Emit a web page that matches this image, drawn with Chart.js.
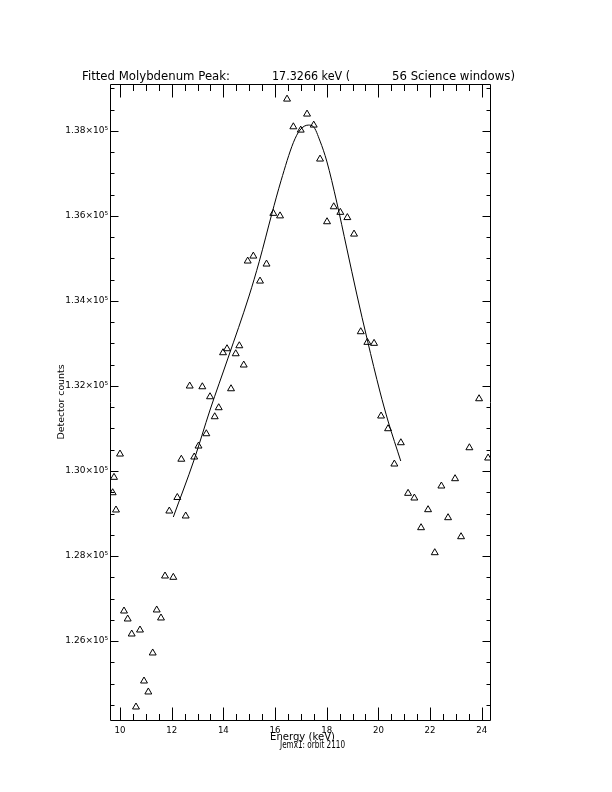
<!DOCTYPE html>
<html><head><meta charset="utf-8">
<script src="https://cdn.jsdelivr.net/npm/chart.js@4/dist/chart.umd.min.js"></script>
<style>html,body{margin:0;padding:0;background:#fff;} canvas{display:block;}</style>
</head><body>
<canvas id="c" width="612" height="792"></canvas>
<script>
// ---- data ----
const energy = [9.717, 9.768, 9.845, 10.000, 10.155, 10.298, 10.453, 10.619, 10.774, 10.929,
  11.096, 11.266, 11.421, 11.587, 11.742, 11.908, 12.063, 12.218, 12.373, 12.543,
  12.698, 12.872, 13.039, 13.186, 13.341, 13.484, 13.666, 13.821, 13.987, 14.142,
  14.297, 14.479, 14.618, 14.789, 14.943, 15.160, 15.419, 15.671, 15.934, 16.194,
  16.465, 16.709, 16.995, 17.239, 17.498, 17.742, 18.013, 18.272, 18.528, 18.799,
  19.058, 19.318, 19.573, 19.833, 20.104, 20.375, 20.618, 20.870, 21.149, 21.392,
  21.652, 21.923, 22.182, 22.438, 22.697, 22.968, 23.200, 23.522, 23.897, 24.246];
const counts = [129489, 129851, 129083, 130399, 126708, 126520, 126167, 124451, 126261, 125062,
  124804, 125721, 126732, 126544, 127531, 129059, 127500, 129377, 130277, 128942,
  131998, 130329, 130587, 131981, 130876, 131746, 131276, 131488, 132781, 132875,
  131934, 132757, 132945, 132492, 134937, 135054, 134466, 134866, 136058, 135999,
  138745, 138094, 138016, 138393, 138134, 137335, 135861, 136213, 136082, 135959,
  135571, 133275, 133025, 133002, 131293, 130994, 130164, 130665, 129475, 129365,
  128667, 129090, 128079, 129647, 128902, 129819, 128455, 130547, 131699, 130305];
const fitEnergy = [12.063, 12.865, 13.484, 14.181, 14.994, 15.392, 15.872, 16.232, 16.708, 16.968,
  17.289, 17.483, 17.742, 18.001, 18.388, 18.775, 19.162, 19.573, 20.065, 20.374, 20.866];
const fitCounts = [128918, 130258, 131434, 132656, 134114, 134932, 136037, 136825, 137720, 138019,
  138134, 138099, 137758, 137288, 136324, 135242, 134161, 133079, 131857, 131175, 130235];
const xTickValues = [10, 12, 14, 16, 18, 20, 22, 24];
const yTickValues = [126000, 128000, 130000, 132000, 134000, 136000, 138000];
const xRange = [9.613, 24.32];
const yRange = [124145, 139100];
const xMinorStep = 0.5;
const yMinorStep = 500;
const titleParts = ['Fitted Molybdenum Peak:', '17.3266 keV (', '56 Science windows)'];
const xTitle = 'Energy (keV)';
const subTitle = 'Jemx1: orbit 2110';
const yTitle = 'Detector counts';

const FONT = 'DejaVu Sans';

function fitText(ctx, str, x, y, w, size) {
  ctx.font = size + 'px "' + FONT + '"';
  const m = ctx.measureText(str).width;
  ctx.save();
  ctx.translate(x, y);
  ctx.scale(w / m, 1);
  ctx.textAlign = 'left';
  ctx.textBaseline = 'alphabetic';
  ctx.fillText(str, 0, 0);
  ctx.restore();
}

const framePlugin = {
  id: 'frame',
  afterDraw(chart) {
    const ctx = chart.ctx;
    const a = chart.chartArea;
    const xs = chart.scales.x, ys = chart.scales.y;
    ctx.save();
    ctx.strokeStyle = '#000';
    ctx.fillStyle = '#000';
    ctx.lineWidth = 1;
    const L = Math.round(a.left) + 0.5, R = Math.round(a.right) + 0.5;
    const T = Math.round(a.top) + 0.5, B = Math.round(a.bottom) + 0.5;
    ctx.beginPath();
    ctx.rect(L, T, R - L, B - T);
    ctx.stroke();
    // x ticks (bottom and top)
    ctx.beginPath();
    for (let v = Math.ceil(xRange[0] / xMinorStep) * xMinorStep; v <= xRange[1] + 1e-9; v += xMinorStep) {
      const major = xTickValues.some(t => Math.abs(t - v) < 1e-6);
      const len = major ? 13 : 6.5;
      const px = Math.round(xs.getPixelForValue(v)) + 0.5;
      ctx.moveTo(px, B); ctx.lineTo(px, B - len);
      ctx.moveTo(px, T); ctx.lineTo(px, T + len);
    }
    // y ticks (left and right)
    for (let v = Math.ceil(yRange[0] / yMinorStep) * yMinorStep; v <= yRange[1]; v += yMinorStep) {
      const major = yTickValues.includes(v);
      const len = major ? 8 : 4;
      const py = Math.round(ys.getPixelForValue(v)) + 0.5;
      ctx.moveTo(L, py); ctx.lineTo(L + len, py);
      ctx.moveTo(R, py); ctx.lineTo(R - len, py);
    }
    ctx.stroke();
    // titles
    fitText(ctx, titleParts[0], 82, 80, 148, 11.5);
    fitText(ctx, titleParts[1], 272, 80, 78, 11.5);
    fitText(ctx, titleParts[2], 392, 80, 123, 11.5);
    fitText(ctx, xTitle, 270, 740, 65, 10);
    fitText(ctx, subTitle, 280, 748, 65, 10);
    ctx.save();
    ctx.translate(64, 402);
    ctx.rotate(-Math.PI / 2);
    fitText(ctx, yTitle, -37.5, 0, 75, 9.3);
    ctx.restore();
    ctx.restore();
  }
};

const points = energy.map((x, i) => ({ x: x, y: counts[i] }));
const fitLine = fitEnergy.map((x, i) => ({ x: x, y: fitCounts[i] }));

new Chart(document.getElementById('c'), {
  type: 'scatter',
  data: {
    datasets: [
      {
        data: points,
        showLine: false,
        pointStyle: 'triangle',
        pointRadius: 4,
        pointHoverRadius: 4,
        borderColor: '#000',
        backgroundColor: 'rgba(0,0,0,0)',
        pointBorderWidth: 1,
        clip: 0
      },
      {
        data: fitLine,
        showLine: true,
        borderColor: '#000',
        borderWidth: 1,
        pointRadius: 0,
        fill: false,
        cubicInterpolationMode: 'monotone',
        clip: 0
      }
    ]
  },
  options: {
    responsive: false,
    devicePixelRatio: 1,
    animation: false,
    events: [],
    layout: { padding: { left: 0, right: 122, top: 84, bottom: 42 } },
    plugins: { legend: { display: false }, title: { display: false }, tooltip: { enabled: false } },
    scales: {
      x: {
        type: 'linear',
        min: xRange[0], max: xRange[1],
        afterBuildTicks: s => { s.ticks = xTickValues.map(v => ({ value: v })); },
        afterFit: s => { s.height = 30; },
        grid: { display: false, drawTicks: false },
        border: { display: false },
        ticks: {
          color: '#000', padding: 6, maxRotation: 0, autoSkip: false,
          font: { family: FONT, size: 8.6 },
          callback: v => String(v)
        }
      },
      y: {
        type: 'linear',
        min: yRange[0], max: yRange[1],
        afterBuildTicks: s => { s.ticks = yTickValues.map(v => ({ value: v })); },
        afterFit: s => { s.width = 110; },
        grid: { display: false, drawTicks: false },
        border: { display: false },
        ticks: {
          color: '#000', padding: 2, autoSkip: false,
          font: { family: FONT, size: 9 },
          callback: v => (v / 1e5).toFixed(2) + '\u00d710\u2075'
        }
      }
    }
  },
  plugins: [framePlugin]
});
</script>
</body></html>
